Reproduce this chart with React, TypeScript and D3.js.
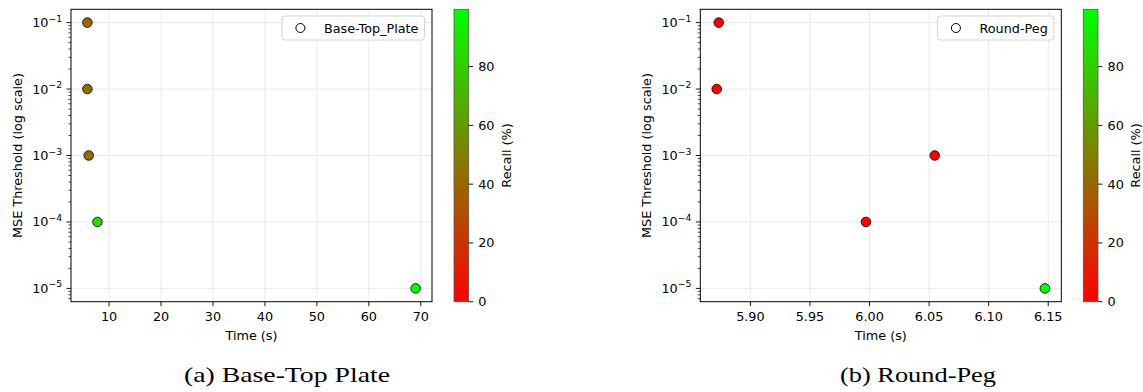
import React, { useEffect, useRef } from 'react';
import * as d3 from 'd3';

// MSE thresholds shared by both panels
const thresholds = [1e-1, 1e-2, 1e-3, 1e-4, 1e-5];

// Base-Top Plate
const baseTime = [5.83, 5.83, 6.08, 7.76, 69.0];
const baseRecall = [41.7, 41.7, 41.7, 83.3, 99.5];

// Round-Peg
const pegTime = [5.8734, 5.8717, 6.0547, 5.997, 6.1472];
const pegRecall = [0, 0, 0, 0, 99.5];

const baseTicks = [10, 20, 30, 40, 50, 60, 70];
const pegTicks = [5.9, 5.95, 6.0, 6.05, 6.1, 6.15];
const recallTicks = [0, 20, 40, 60, 80];
const yExponents = [-1, -2, -3, -4, -5];

const panels = [
  { name: 'Base-Top_Plate', caption: '(a) Base-Top Plate', time: baseTime, recall: baseRecall, ticks: baseTicks, fmt: (d: number) => String(d), capW: 206, capX: 287 },
  { name: 'Round-Peg', caption: '(b) Round-Peg', time: pegTime, recall: pegRecall, ticks: pegTicks, fmt: (d: number) => d.toFixed(2), capW: 156, capX: 918 },
];

const RECALL_MAX = 99.5;
const FONT = 'DejaVu Sans, sans-serif';

export default function App() {
  const svgRef = useRef<SVGSVGElement>(null);

  useEffect(() => {
    const svg = d3.select(svgRef.current);
    svg.selectAll('*').remove();

    const color = d3.scaleLinear<string>().domain([0, RECALL_MAX]).range(['#ff0000', '#00ff00']).interpolate(d3.interpolateRgb);

    const defs = svg.append('defs');
    const grad = defs.append('linearGradient').attr('id', 'cbar').attr('x1', 0).attr('y1', 1).attr('x2', 0).attr('y2', 0);
    grad.append('stop').attr('offset', 0).attr('stop-color', '#ff0000');
    grad.append('stop').attr('offset', 1).attr('stop-color', '#00ff00');

    const top = 9.3, bottom = 301.7;
    const pw = 361;
    const fs = 12.8;

    panels.forEach((p, pi) => {
      const ox = pi === 0 ? 71 : 700.3;
      const g = svg.append('g').attr('transform', `translate(${ox},0)`);

      // matplotlib-like 5% margins
      const [tmin, tmax] = d3.extent(p.time) as [number, number];
      const pad = (tmax - tmin) * 0.05;
      const x = d3.scaleLinear().domain([tmin - pad, tmax + pad]).range([0, pw]);
      const y = d3.scaleLog().domain([10 ** -5.2, 10 ** -0.8]).range([bottom, top]);

      // grid
      g.selectAll('.gx').data(p.ticks).join('line')
        .attr('x1', d => x(d)).attr('x2', d => x(d)).attr('y1', top).attr('y2', bottom)
        .attr('stroke', '#e8e8e8').attr('stroke-width', 0.9);
      g.selectAll('.gy').data(thresholds).join('line')
        .attr('x1', 0).attr('x2', pw).attr('y1', d => y(d)).attr('y2', d => y(d))
        .attr('stroke', '#e8e8e8').attr('stroke-width', 0.9);

      // x ticks
      p.ticks.forEach(t => {
        g.append('line').attr('x1', x(t)).attr('x2', x(t)).attr('y1', bottom).attr('y2', bottom + 4.5).attr('stroke', '#000').attr('stroke-width', 0.9);
        g.append('text').attr('x', x(t)).attr('y', bottom + 19.5).attr('text-anchor', 'middle')
          .attr('font-family', FONT).attr('font-size', fs).attr('fill', '#000').text(p.fmt(t));
      });

      // y major ticks with labels
      yExponents.forEach(e => {
        const yy = y(10 ** e);
        g.append('line').attr('x1', -4.5).attr('x2', 0).attr('y1', yy).attr('y2', yy).attr('stroke', '#000').attr('stroke-width', 0.9);
        const t = g.append('text').attr('x', -9).attr('y', yy + 4.5).attr('text-anchor', 'end')
          .attr('font-family', FONT).attr('font-size', fs).attr('fill', '#000');
        t.append('tspan').text('10');
        t.append('tspan').attr('dy', -5.5).attr('font-size', 9.2).text(`\u2212${-e}`);
      });
      // y minor ticks
      const minors: number[] = [];
      for (let e = -6; e <= 0; e++) for (let k = 2; k <= 9; k++) minors.push(k * 10 ** e);
      minors.filter(v => v > 10 ** -5.2 && v < 10 ** -0.8).forEach(v => {
        g.append('line').attr('x1', -2.6).attr('x2', 0).attr('y1', y(v)).attr('y2', y(v)).attr('stroke', '#000').attr('stroke-width', 0.7);
      });

      // points
      g.selectAll('.pt').data(p.time.map((t, i) => ({ t, m: thresholds[i], r: p.recall[i] }))).join('circle')
        .attr('cx', d => x(d.t)).attr('cy', d => y(d.m)).attr('r', 4.8)
        .attr('fill', d => color(d.r)).attr('stroke', '#000').attr('stroke-width', 0.8);

      // frame
      g.append('rect').attr('x', 0).attr('y', top).attr('width', pw).attr('height', bottom - top)
        .attr('fill', 'none').attr('stroke', '#000').attr('stroke-width', 1);

      // axis labels
      g.append('text').attr('x', pw / 2).attr('y', bottom + 38).attr('text-anchor', 'middle')
        .attr('font-family', FONT).attr('font-size', fs).text('Time (s)');
      g.append('text').attr('transform', `translate(${-53.5},${(top + bottom) / 2}) rotate(-90)`).attr('text-anchor', 'middle')
        .attr('dy', '0.35em').attr('font-family', FONT).attr('font-size', fs).text('MSE Threshold (log scale)');

      // legend
      const lg = g.append('g');
      const box = lg.append('rect');
      const lt = lg.append('text').attr('y', 32.5).attr('font-family', FONT).attr('font-size', fs).text(p.name);
      const tw = (lt.node() as SVGTextElement).getComputedTextLength();
      const bx1 = pw - 7.5;
      const bx0 = bx1 - tw - 48;
      box.attr('x', bx0).attr('y', 16).attr('width', bx1 - bx0).attr('height', 24).attr('rx', 3)
        .attr('fill', '#fff').attr('fill-opacity', 0.8).attr('stroke', '#d4d4d4').attr('stroke-width', 1);
      lt.attr('x', bx0 + 42);
      lg.append('circle').attr('cx', bx0 + 18.5).attr('cy', 28).attr('r', 4.5).attr('fill', '#fff').attr('stroke', '#000').attr('stroke-width', 1);

      // colorbar
      const cx0 = 383, cw = 14.7;
      const c = d3.scaleLinear().domain([0, RECALL_MAX]).range([bottom, top]);
      g.append('rect').attr('x', cx0).attr('y', top).attr('width', cw).attr('height', bottom - top)
        .attr('fill', 'url(#cbar)').attr('stroke', '#555').attr('stroke-width', 0.8);
      recallTicks.forEach(r => {
        g.append('line').attr('x1', cx0 + cw).attr('x2', cx0 + cw + 4.5).attr('y1', c(r)).attr('y2', c(r)).attr('stroke', '#000').attr('stroke-width', 0.9);
        g.append('text').attr('x', cx0 + cw + 9.5).attr('y', c(r) + 4.5)
          .attr('font-family', FONT).attr('font-size', fs).text(String(r));
      });
      g.append('text').attr('transform', `translate(${cx0 + cw + 38},${(top + bottom) / 2}) rotate(-90)`).attr('text-anchor', 'middle')
        .attr('dy', '0.35em').attr('font-family', FONT).attr('font-size', fs).text('Recall (%)');

      // caption
      svg.append('text').attr('x', p.capX).attr('y', 382).attr('text-anchor', 'middle')
        .attr('font-family', 'Liberation Serif, serif').attr('font-size', 22)
        .attr('textLength', p.capW).attr('lengthAdjust', 'spacingAndGlyphs').text(p.caption);
    });
  }, []);

  return (
    <svg ref={svgRef} width={1143} height={392}
      style={{ position: 'absolute', left: 0, top: 0, display: 'block', background: '#fff' }} />
  );
}
